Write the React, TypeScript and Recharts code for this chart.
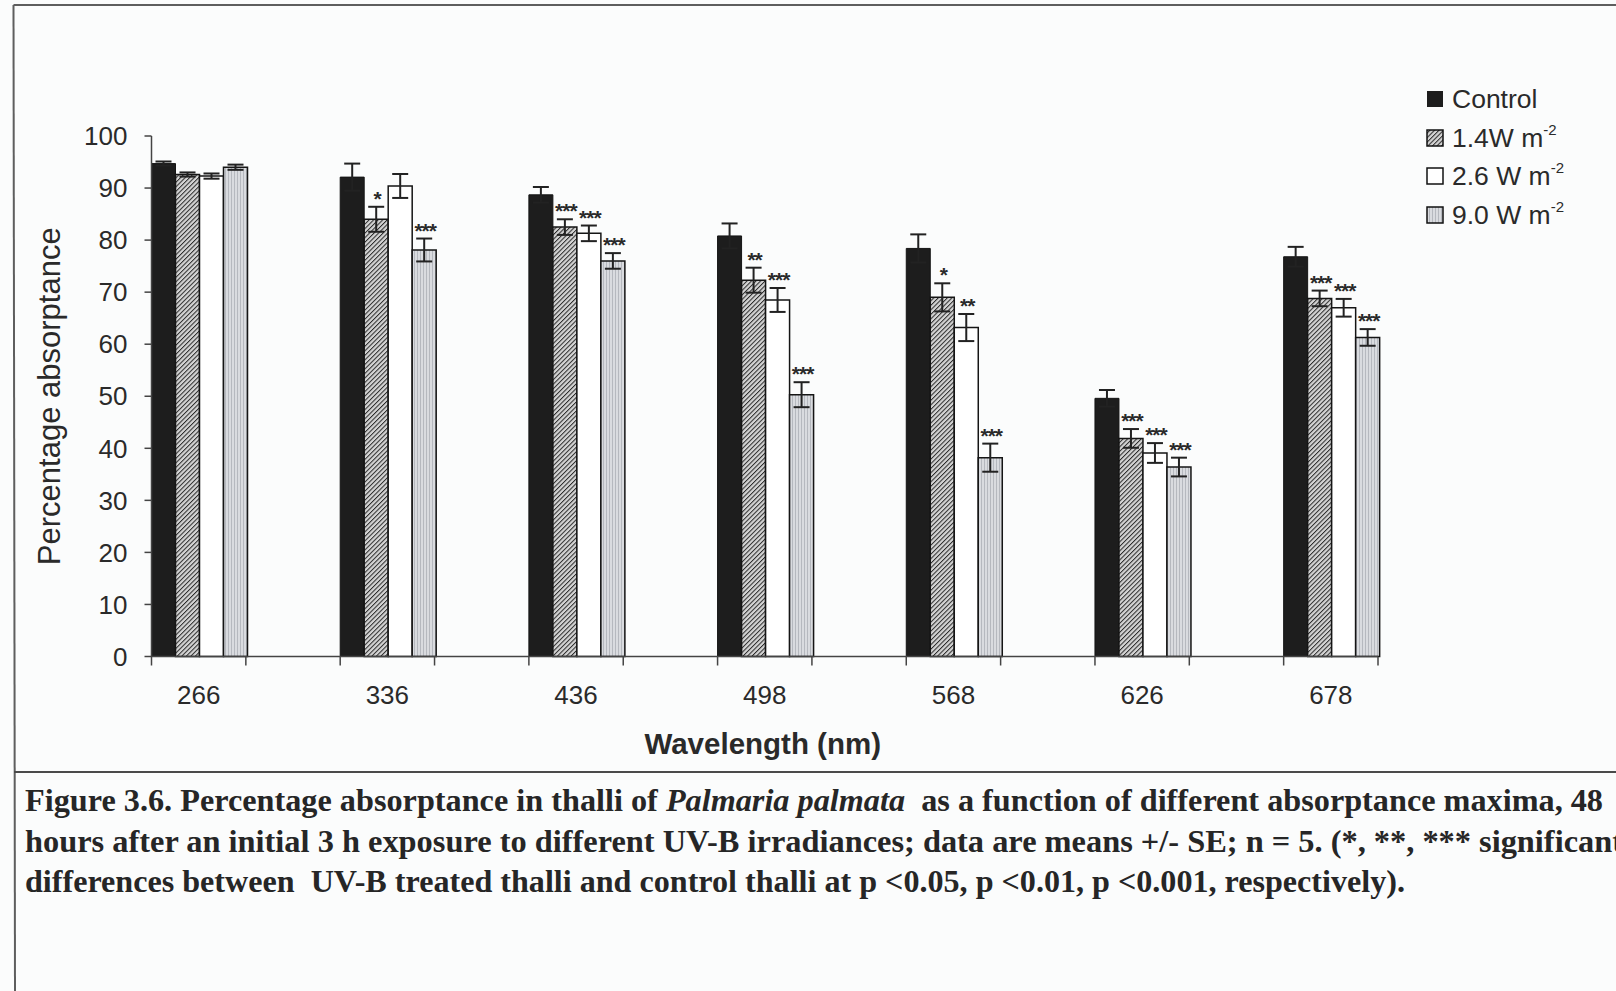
import React from 'react';
import { BarChart, Bar, XAxis, YAxis, ErrorBar, LabelList, Legend } from 'recharts';

// ---------- data ----------
const wavelengths = ['266', '336', '436', '498', '568', '626', '678'];
const control = [94.7, 92.1, 88.7, 80.8, 78.4, 49.6, 76.8];
const controlSE = [0.4, 2.6, 1.5, 2.4, 2.7, 1.6, 1.9];
const w14 = [92.6, 84.0, 82.5, 72.3, 69.0, 41.9, 68.8];
const w14SE = [0.4, 2.4, 1.5, 2.4, 2.7, 1.8, 1.5];
const w26 = [92.3, 90.4, 81.3, 68.5, 63.2, 39.1, 67.0];
const w26SE = [0.5, 2.3, 1.5, 2.3, 2.6, 1.9, 1.7];
const w90 = [94.0, 78.1, 76.0, 50.3, 38.2, 36.4, 61.3];
const w90SE = [0.5, 2.2, 1.5, 2.4, 2.7, 1.8, 1.6];
const sig14 = ['', '*', '***', '**', '*', '***', '***'];
const sig26 = ['', '', '***', '***', '**', '***', '***'];
const sig90 = ['', '***', '***', '***', '***', '***', '***'];
const yTicks = [0, 10, 20, 30, 40, 50, 60, 70, 80, 90, 100];
const legendNames = ['Control', '1.4W m', '2.6 W m', '9.0 W m'];
const legendSup = ['', '-2', '-2', '-2'];
const captionLines = [
  ['Figure 3.6. Percentage absorptance in thalli of ', 'Palmaria palmata', '  as a function of different absorptance maxima, 48'],
  ['hours after an initial 3 h exposure to different UV-B irradiances; data are means +/- SE; n = 5. (*, **, *** significant', '', ''],
  ['differences between  UV-B treated thalli and control thalli at p <0.05, p <0.01, p <0.001, respectively).', '', ''],
];

const data = wavelengths.map((wl, i) => ({
  wl,
  control: control[i], controlSE: controlSE[i],
  w14: w14[i], w14SE: w14SE[i], sig14: sig14[i],
  w26: w26[i], w26SE: w26SE[i], sig26: sig26[i],
  w90: w90[i], w90SE: w90SE[i], sig90: sig90[i],
}));

// ---------- layout ----------
const W = 1616;
const H = 991;
const PLOT_LEFT = 151.5;
const PLOT_RIGHT = 1378;
const PLOT_TOP = 136;
const PLOT_BOTTOM = 656.5;
const BAND = (PLOT_RIGHT - PLOT_LEFT) / 6.5;
const QUARTER = BAND / 4;
const PX_PER_UNIT = (PLOT_BOTTOM - PLOT_TOP) / 100;
const YAXIS_W = 60;
const XAXIS_H = 30;

const SANS = '"Liberation Sans", Arial, sans-serif';
const SERIF = '"Liberation Serif", "Times New Roman", serif';
const INK = '#2a2a2a';

const fills = ['#1d1d1d', 'url(#hatch14)', '#ffffff', 'url(#stripe90)'];

const XTick = (props: any) => {
  const { x, payload } = props;
  return (
    <g>
      <line x1={x - QUARTER} x2={x - QUARTER} y1={PLOT_BOTTOM} y2={PLOT_BOTTOM + 9} stroke="#444" strokeWidth={1.5} />
      <line x1={x + QUARTER} x2={x + QUARTER} y1={PLOT_BOTTOM} y2={PLOT_BOTTOM + 9} stroke="#444" strokeWidth={1.5} />
      <text x={x} y={PLOT_BOTTOM + 38} textAnchor="middle" dominantBaseline="central" fontFamily={SANS} fontSize={26} fill={INK}>
        {payload.value}
      </text>
    </g>
  );
};

const YLabel = (props: any) => {
  const vb = props.viewBox || {};
  const cx = 49;
  const cy = (vb.y ?? PLOT_TOP) + (vb.height ?? PLOT_BOTTOM - PLOT_TOP) / 2;
  return (
    <text x={cx} y={cy} transform={`rotate(-90 ${cx} ${cy})`} textAnchor="middle" dominantBaseline="central" fontFamily={SANS} fontSize={31} fill={INK}>
      Percentage absorptance
    </text>
  );
};

const XLabel = (props: any) => {
  const vb = props.viewBox || {};
  const cx = (vb.x ?? PLOT_LEFT) + (vb.width ?? PLOT_RIGHT - PLOT_LEFT) / 2;
  return (
    <text x={cx - 2} y={PLOT_BOTTOM + 87} textAnchor="middle" dominantBaseline="central" fontFamily={SANS} fontSize={29.5} fontWeight="bold" fill={INK}>
      Wavelength (nm)
    </text>
  );
};

const makeStars = (seArr: number[]) => (props: any) => {
  const { x, y, width, value, index } = props;
  if (!value) return null;
  const top = y - seArr[index] * PX_PER_UNIT;
  return (
    <text x={x + width / 2 + 1} y={top - 1} textAnchor="middle" fontFamily={SANS} fontWeight="bold" fontSize={21} fill={INK} letterSpacing={-1}>
      {value}
    </text>
  );
};

const Swatch = ({ i }: { i: number }) => (
  <svg width={18} height={18} style={{ display: 'block' }}>
    <rect x={1} y={1} width={16} height={16} fill={fills[i]} stroke="#111" strokeWidth={i === 0 ? 0 : 1.5} />
  </svg>
);

const LegendContent = () => (
  <div style={{ fontFamily: SANS, fontSize: 26.5, color: INK, lineHeight: 1 }}>
    {legendNames.map((n, i) => (
      <div key={n} style={{ display: 'flex', alignItems: 'center', height: 38.6 }}>
        <Swatch i={i} />
        <span style={{ marginLeft: 8, whiteSpace: 'pre' }}>
          {n}
          {legendSup[i] ? <sup style={{ fontSize: 15, verticalAlign: 'top', position: 'relative', top: -3 }}>{legendSup[i]}</sup> : null}
        </span>
      </div>
    ))}
  </div>
);

export default function App() {
  const capY = [811, 851.5, 892];
  const capLen = [1578, 1598, 1380];
  return (
    <div style={{ position: 'relative', width: W, height: H, overflow: 'hidden', background: '#fbfcfc' }}>
      <style>{`body{margin:0;background:#fbfcfc;overflow:hidden}`}</style>
      <svg width={0} height={0} style={{ position: 'absolute' }}>
        <defs>
          <pattern id="hatch14" patternUnits="userSpaceOnUse" width={3.2} height={3.2} patternTransform="rotate(45)">
            <rect width={3.2} height={3.2} fill="#d4d4d4" />
            <line x1={0} y1={0} x2={0} y2={3.2} stroke="#2a2a2a" strokeWidth={2} />
          </pattern>
          <pattern id="stripe90" patternUnits="userSpaceOnUse" width={3} height={3}>
            <rect width={3} height={3} fill="#d9dbdf" />
            <line x1={0.5} y1={0} x2={0.5} y2={3} stroke="#b5b8be" strokeWidth={1} />
          </pattern>
        </defs>
      </svg>

      <div style={{ position: 'absolute', left: 0, top: 0 }}>
        <BarChart
          width={W}
          height={H}
          data={data}
          margin={{ top: PLOT_TOP, right: W - PLOT_RIGHT, bottom: H - PLOT_BOTTOM - XAXIS_H, left: PLOT_LEFT - YAXIS_W }}
          barGap={0}
          barCategoryGap="25%"
        >
          <XAxis
            dataKey="wl"
            height={XAXIS_H}
            padding={{ left: -QUARTER, right: -QUARTER }}
            tickLine={false}
            tickSize={0}
            tickMargin={0}
            interval={0}
            axisLine={{ stroke: '#444', strokeWidth: 1.5 }}
            tick={<XTick />}
            label={<XLabel />}
          />
          <YAxis
            width={YAXIS_W}
            domain={[0, 100]}
            ticks={yTicks}
            interval={0}
            tickSize={7}
            tickMargin={17}
            axisLine={{ stroke: '#444', strokeWidth: 1.5 }}
            tickLine={{ stroke: '#444', strokeWidth: 1.5 }}
            tick={{ fontFamily: SANS, fontSize: 26, fill: INK }}
            label={<YLabel />}
          />
          <Legend
            layout="vertical"
            align="center"
            verticalAlign="middle"
            content={<LegendContent />}
            wrapperStyle={{ position: 'absolute', left: 1426, top: 80, width: 190, height: 160 }}
          />
          <Bar dataKey="control" name="Control" fill={fills[0]} stroke="#151515" strokeWidth={1} isAnimationActive={false}>
            <ErrorBar dataKey="controlSE" width={8} stroke="#222" strokeWidth={2} />
          </Bar>
          <Bar dataKey="w14" name="1.4W m-2" fill={fills[1]} stroke="#151515" strokeWidth={1.5} isAnimationActive={false}>
            <ErrorBar dataKey="w14SE" width={8} stroke="#222" strokeWidth={2} />
            <LabelList dataKey="sig14" content={makeStars(w14SE)} />
          </Bar>
          <Bar dataKey="w26" name="2.6 W m-2" fill={fills[2]} stroke="#151515" strokeWidth={1.5} isAnimationActive={false}>
            <ErrorBar dataKey="w26SE" width={8} stroke="#222" strokeWidth={2} />
            <LabelList dataKey="sig26" content={makeStars(w26SE)} />
          </Bar>
          <Bar dataKey="w90" name="9.0 W m-2" fill={fills[3]} stroke="#151515" strokeWidth={1.5} isAnimationActive={false}>
            <ErrorBar dataKey="w90SE" width={8} stroke="#222" strokeWidth={2} />
            <LabelList dataKey="sig90" content={makeStars(w90SE)} />
          </Bar>
        </BarChart>
      </div>

      <svg width={W} height={H} style={{ position: 'absolute', left: 0, top: 0, pointerEvents: 'none' }}>
        <line x1={13.5} y1={5} x2={W} y2={5} stroke="#5e5e5e" strokeWidth={2} />
        <line x1={13.5} y1={5} x2={15} y2={H} stroke="#5e5e5e" strokeWidth={2} />
        <line x1={14} y1={772} x2={W} y2={772} stroke="#4a4a4a" strokeWidth={2} />
        {captionLines.map((parts, i) => (
          <text
            key={i}
            x={25}
            y={capY[i]}
            textLength={capLen[i]}
            lengthAdjust="spacingAndGlyphs"
            fontFamily={SERIF}
            fontWeight="bold"
            fontSize={31}
            fill="#262626"
            style={{ whiteSpace: 'pre' }}
          >
            {parts[0]}
            {parts[1] ? <tspan fontStyle="italic">{parts[1]}</tspan> : null}
            {parts[2] ? parts[2] : null}
          </text>
        ))}
      </svg>
    </div>
  );
}
